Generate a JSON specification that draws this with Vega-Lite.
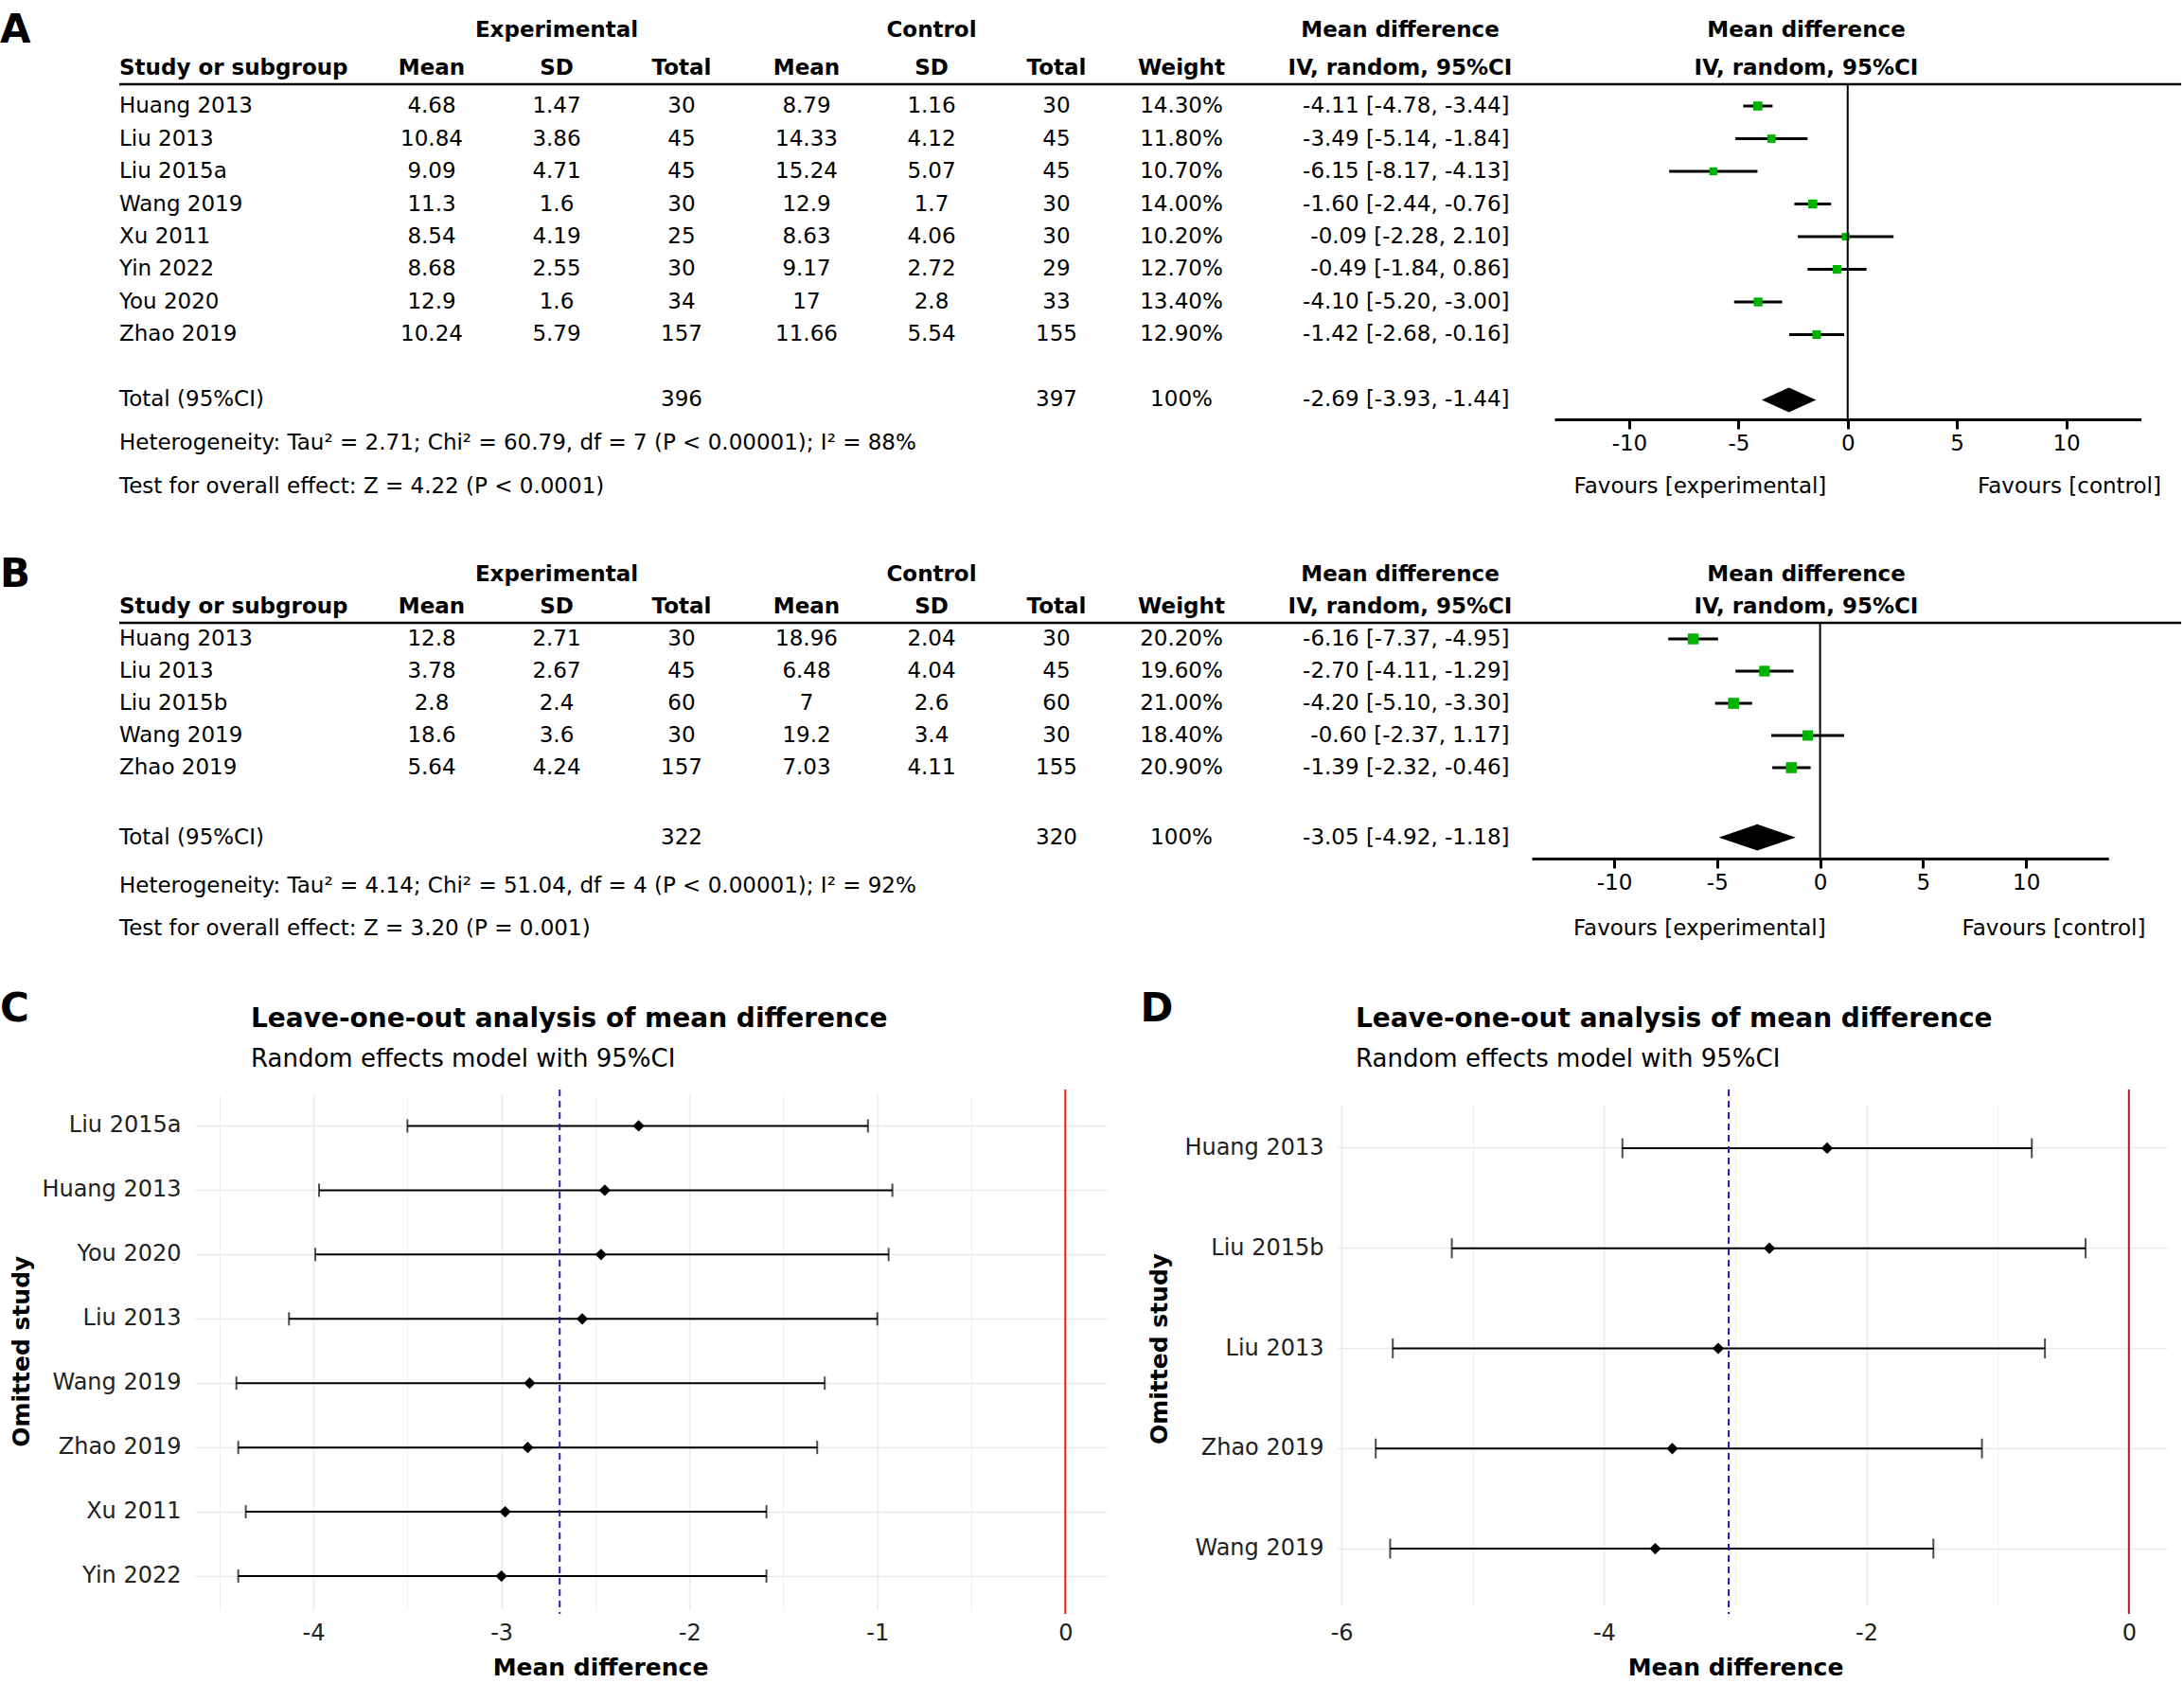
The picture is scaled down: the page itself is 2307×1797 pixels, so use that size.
{
  "$schema": "https://vega.github.io/schema/vega-lite/v6.json",
  "padding": 0,
  "background": "white",
  "config": {
    "font": "DejaVu Sans",
    "view": {"stroke": null},
    "text": {"fontSize": 23, "color": "black", "baseline": "middle"},
    "axis": {"labelFont": "DejaVu Sans", "titleFont": "DejaVu Sans"},
    "title": {"font": "DejaVu Sans", "subtitleFont": "DejaVu Sans"}
  },
  "datasets": {
    "hdr": [
      {"row": "hdr1", "col": "SD_e", "txt": "Experimental"},
      {"row": "hdr1", "col": "SD_c", "txt": "Control"},
      {"row": "hdr1", "col": "MD_h", "txt": "Mean difference"},
      {"row": "hdr1", "col": "FH", "txt": "Mean difference"},
      {"row": "hdr2", "col": "Mean_e", "txt": "Mean"},
      {"row": "hdr2", "col": "SD_e", "txt": "SD"},
      {"row": "hdr2", "col": "Total_e", "txt": "Total"},
      {"row": "hdr2", "col": "Mean_c", "txt": "Mean"},
      {"row": "hdr2", "col": "SD_c", "txt": "SD"},
      {"row": "hdr2", "col": "Total_c", "txt": "Total"},
      {"row": "hdr2", "col": "Weight", "txt": "Weight"},
      {"row": "hdr2", "col": "MD_h", "txt": "IV, random, 95%CI"},
      {"row": "hdr2", "col": "FH", "txt": "IV, random, 95%CI"}
    ],
    "A": [
      {"row": "Huang 2013", "Mean_e": 4.68, "SD_e": 1.47, "Total_e": 30, "Mean_c": 8.79, "SD_c": 1.16, "Total_c": 30, "Weight": "14.30%", "ci": "-4.11 [-4.78, -3.44]", "md": -4.11, "lo": -4.78, "hi": -3.44, "w": 14.3},
      {"row": "Liu 2013", "Mean_e": 10.84, "SD_e": 3.86, "Total_e": 45, "Mean_c": 14.33, "SD_c": 4.12, "Total_c": 45, "Weight": "11.80%", "ci": "-3.49 [-5.14, -1.84]", "md": -3.49, "lo": -5.14, "hi": -1.84, "w": 11.8},
      {"row": "Liu 2015a", "Mean_e": 9.09, "SD_e": 4.71, "Total_e": 45, "Mean_c": 15.24, "SD_c": 5.07, "Total_c": 45, "Weight": "10.70%", "ci": "-6.15 [-8.17, -4.13]", "md": -6.15, "lo": -8.17, "hi": -4.13, "w": 10.7},
      {"row": "Wang 2019", "Mean_e": 11.3, "SD_e": 1.6, "Total_e": 30, "Mean_c": 12.9, "SD_c": 1.7, "Total_c": 30, "Weight": "14.00%", "ci": "-1.60 [-2.44, -0.76]", "md": -1.6, "lo": -2.44, "hi": -0.76, "w": 14.0},
      {"row": "Xu 2011", "Mean_e": 8.54, "SD_e": 4.19, "Total_e": 25, "Mean_c": 8.63, "SD_c": 4.06, "Total_c": 30, "Weight": "10.20%", "ci": "-0.09 [-2.28, 2.10]", "md": -0.09, "lo": -2.28, "hi": 2.1, "w": 10.2},
      {"row": "Yin 2022", "Mean_e": 8.68, "SD_e": 2.55, "Total_e": 30, "Mean_c": 9.17, "SD_c": 2.72, "Total_c": 29, "Weight": "12.70%", "ci": "-0.49 [-1.84, 0.86]", "md": -0.49, "lo": -1.84, "hi": 0.86, "w": 12.7},
      {"row": "You 2020", "Mean_e": 12.9, "SD_e": 1.6, "Total_e": 34, "Mean_c": 17, "SD_c": 2.8, "Total_c": 33, "Weight": "13.40%", "ci": "-4.10 [-5.20, -3.00]", "md": -4.1, "lo": -5.2, "hi": -3.0, "w": 13.4},
      {"row": "Zhao 2019", "Mean_e": 10.24, "SD_e": 5.79, "Total_e": 157, "Mean_c": 11.66, "SD_c": 5.54, "Total_c": 155, "Weight": "12.90%", "ci": "-1.42 [-2.68, -0.16]", "md": -1.42, "lo": -2.68, "hi": -0.16, "w": 12.9},
      {"row": "Total (95%CI)", "Total_e": 396, "Total_c": 397, "Weight": "100%", "ci": "-2.69 [-3.93, -1.44]", "md": -2.69, "lo": -3.93, "hi": -1.44, "w": 100}
    ],
    "A_notes": [
      {"row": "het", "txt": "Heterogeneity: Tau² = 2.71; Chi² = 60.79, df = 7 (P < 0.00001); I² = 88%"},
      {"row": "test", "txt": "Test for overall effect: Z = 4.22 (P < 0.0001)"}
    ],
    "B": [
      {"row": "Huang 2013", "Mean_e": 12.8, "SD_e": 2.71, "Total_e": 30, "Mean_c": 18.96, "SD_c": 2.04, "Total_c": 30, "Weight": "20.20%", "ci": "-6.16 [-7.37, -4.95]", "md": -6.16, "lo": -7.37, "hi": -4.95, "w": 20.2},
      {"row": "Liu 2013", "Mean_e": 3.78, "SD_e": 2.67, "Total_e": 45, "Mean_c": 6.48, "SD_c": 4.04, "Total_c": 45, "Weight": "19.60%", "ci": "-2.70 [-4.11, -1.29]", "md": -2.7, "lo": -4.11, "hi": -1.29, "w": 19.6},
      {"row": "Liu 2015b", "Mean_e": 2.8, "SD_e": 2.4, "Total_e": 60, "Mean_c": 7, "SD_c": 2.6, "Total_c": 60, "Weight": "21.00%", "ci": "-4.20 [-5.10, -3.30]", "md": -4.2, "lo": -5.1, "hi": -3.3, "w": 21.0},
      {"row": "Wang 2019", "Mean_e": 18.6, "SD_e": 3.6, "Total_e": 30, "Mean_c": 19.2, "SD_c": 3.4, "Total_c": 30, "Weight": "18.40%", "ci": "-0.60 [-2.37, 1.17]", "md": -0.6, "lo": -2.37, "hi": 1.17, "w": 18.4},
      {"row": "Zhao 2019", "Mean_e": 5.64, "SD_e": 4.24, "Total_e": 157, "Mean_c": 7.03, "SD_c": 4.11, "Total_c": 155, "Weight": "20.90%", "ci": "-1.39 [-2.32, -0.46]", "md": -1.39, "lo": -2.32, "hi": -0.46, "w": 20.9},
      {"row": "Total (95%CI)", "Total_e": 322, "Total_c": 320, "Weight": "100%", "ci": "-3.05 [-4.92, -1.18]", "md": -3.05, "lo": -4.92, "hi": -1.18, "w": 100}
    ],
    "B_notes": [
      {"row": "het", "txt": "Heterogeneity: Tau² = 4.14; Chi² = 51.04, df = 4 (P < 0.00001); I² = 92%"},
      {"row": "test", "txt": "Test for overall effect: Z = 3.20 (P = 0.001)"}
    ],
    "C": [
      {"study": "Liu 2015a", "est": -2.27, "lo": -3.5, "hi": -1.05},
      {"study": "Huang 2013", "est": -2.45, "lo": -3.97, "hi": -0.92},
      {"study": "You 2020", "est": -2.47, "lo": -3.99, "hi": -0.94},
      {"study": "Liu 2013", "est": -2.57, "lo": -4.13, "hi": -1.0},
      {"study": "Wang 2019", "est": -2.85, "lo": -4.41, "hi": -1.28},
      {"study": "Zhao 2019", "est": -2.86, "lo": -4.4, "hi": -1.32},
      {"study": "Xu 2011", "est": -2.98, "lo": -4.36, "hi": -1.59},
      {"study": "Yin 2022", "est": -3.0, "lo": -4.4, "hi": -1.59}
    ],
    "D": [
      {"study": "Huang 2013", "est": -2.3, "lo": -3.86, "hi": -0.74},
      {"study": "Liu 2015b", "est": -2.74, "lo": -5.16, "hi": -0.33},
      {"study": "Liu 2013", "est": -3.13, "lo": -5.61, "hi": -0.64},
      {"study": "Zhao 2019", "est": -3.48, "lo": -5.74, "hi": -1.12},
      {"study": "Wang 2019", "est": -3.61, "lo": -5.63, "hi": -1.49}
    ]
  },
  "spacing": 0,
  "bounds": "flush",
  "vconcat": [
    {
      "width": 2307,
      "height": 584,
      "resolve": {"scale": {"x": "independent"}, "axis": {"x": "independent"}},
      "layer": [
        {
          "layer": [
            {
              "data": {"values": [{"row": "hdr1", "col": "lab", "txt": "A"}]},
              "mark": {"type": "text", "align": "left", "dx": 6, "fontSize": 42, "fontWeight": "bold"},
              "encoding": {
                "x": {"field": "col", "type": "nominal", "axis": null, "scale": {"type": "point", "padding": 0.0001, "range": [-6, 2304], "domain": ["lab","x-7","x-6","x-5","x-4","x-3","x-2","x-1","Study","x1","x2","x3","x4","x5","x6","x7","x8","x9","x10","x11","x12","x13","x14","x15","x16","x17","x18","x19","Mean_e","x21","x22","x23","x24","x25","x26","x27","SD_e","x29","x30","x31","x32","x33","x34","x35","Total_e","x37","x38","x39","x40","x41","x42","x43","Mean_c","x45","x46","x47","x48","x49","x50","x51","SD_c","x53","x54","x55","x56","x57","x58","x59","Total_c","x61","x62","x63","x64","Dlab","x66","x67","Weight","x69","x70","x71","x72","x73","x74","x75","x76","x77","x78","x79","x80","x81","MD_h","x83","x84","x85","x86","x87","x88","MD","x90","x91","x92","x93","x94","x95","x96","x97","x98","x99","x100","x101","x102","x103","x104","x105","x106","x107","FH","x109","x110","x111","x112","x113","x114","x115","x116","x117","x118","x119","x120","x121","x122","x123","x124","x125","x126","x127","x128","x129","x130","x131","end"]}},
                "y": {"field": "row", "type": "nominal", "axis": null, "scale": {"type": "point", "padding": 0.0001, "range": [31.5, 514.5], "domain": ["hdr1","y-13","y-12","y-11","y-10","y-9","y-8","hdr2","y-6","y-5","rule","y-3","y-2","y-1","Huang 2013","y1","y2","y3","y4","y5","Liu 2013","y7","y8","y9","y10","y11","Liu 2015a","y13","y14","y15","y16","y17","Wang 2019","y19","y20","y21","y22","y23","Xu 2011","y25","y26","y27","y28","y29","Yin 2022","y31","y32","y33","y34","y35","You 2020","y37","y38","y39","y40","y41","Zhao 2019","y43","y44","y45","y46","y47","y48","y49","y50","y51","y52","y53","Total (95%CI)","y55","y56","y57","axis","y59","y60","y61","het","y63","y64","y65","y66","y67","y68","y69","test"]}},
                "text": {"field": "txt"}
              }
            },
            {
              "data": {"name": "hdr"},
              "mark": {"type": "text", "align": "center", "fontWeight": "bold", "fontSize": 23},
              "encoding": {
                "x": {"field": "col", "type": "nominal", "axis": null},
                "y": {"field": "row", "type": "nominal", "axis": null},
                "text": {"field": "txt"}
              }
            },
            {
              "data": {"values": [{"txt": "Study or subgroup"}]},
              "mark": {"type": "text", "align": "left", "fontWeight": "bold", "fontSize": 23},
              "encoding": {
                "x": {"datum": "Study", "axis": null},
                "y": {"datum": "hdr2", "axis": null},
                "text": {"field": "txt"}
              }
            },
            {
              "data": {"name": "A"},
              "mark": {"type": "text", "align": "left"},
              "encoding": {
                "x": {"datum": "Study", "axis": null},
                "y": {"field": "row", "type": "nominal", "axis": null},
                "text": {"field": "row"}
              }
            },
            {
              "data": {"name": "A_notes"},
              "mark": {"type": "text", "align": "left"},
              "encoding": {
                "x": {"datum": "Study", "axis": null},
                "y": {"field": "row", "type": "nominal", "axis": null},
                "text": {"field": "txt"}
              }
            },
            {
              "data": {"name": "A"},
              "transform": [
                {"fold": ["Mean_e", "SD_e", "Total_e", "Mean_c", "SD_c", "Total_c", "Weight"], "as": ["col", "txt"]},
                {"filter": "datum.txt != null"}
              ],
              "mark": {"type": "text", "align": "center"},
              "encoding": {
                "x": {"field": "col", "type": "nominal", "axis": null},
                "y": {"field": "row", "type": "nominal", "axis": null},
                "text": {"field": "txt", "type": "nominal"}
              }
            },
            {
              "data": {"name": "A"},
              "mark": {"type": "text", "align": "right"},
              "encoding": {
                "x": {"datum": "MD", "axis": null},
                "y": {"field": "row", "type": "nominal", "axis": null},
                "text": {"field": "ci"}
              }
            },
            {
              "data": {"values": [{}]},
              "mark": {"type": "rule", "color": "black", "strokeWidth": 2.5},
              "encoding": {
                "x": {"datum": "Study", "axis": null},
                "x2": {"datum": "end"},
                "y": {"datum": "rule", "axis": null}
              }
            }
          ]
        },
        {
          "layer": [
            {
              "data": {"name": "A"},
              "transform": [{"filter": "datum.row !== 'Total (95%CI)'"}],
              "mark": {"type": "rule", "color": "black", "strokeWidth": 3},
              "encoding": {
                "x": {"field": "lo", "type": "quantitative", "scale": {"domain": [-13.42, 13.42], "range": [1642, 2261.5], "nice": false, "zero": false},
                  "axis": {"values": [-10, -5, 0, 5, 10], "labelExpr": "'' + datum.value", "title": null, "orient": "bottom", "offset": -141, "grid": false, "domain": true, "ticks": true, "domainColor": "black", "domainWidth": 3, "tickColor": "black", "tickWidth": 3, "tickSize": 10, "labelFontSize": 23, "labelColor": "black", "labelPadding": 4, "labelFlush": false}},
                "x2": {"field": "hi"},
                "y": {"field": "row", "type": "nominal", "axis": null}
              }
            },
            {
              "data": {"name": "A"},
              "transform": [{"filter": "datum.row !== 'Total (95%CI)'"}],
              "mark": {"type": "square", "color": "#00b300", "filled": true, "opacity": 1},
              "encoding": {
                "x": {"field": "md", "type": "quantitative"},
                "y": {"field": "row", "type": "nominal", "axis": null},
                "size": {"field": "w", "type": "quantitative", "scale": {"domain": [0, 25], "range": [0, 162]}, "legend": null}
              }
            },
            {
              "data": {"name": "A"},
              "transform": [{"filter": "datum.row === 'Total (95%CI)'"}],
              "mark": {"type": "point", "shape": "M-1,0L0,-0.45L1,0L0,0.45Z", "size": 3295, "filled": true, "color": "black", "opacity": 1, "strokeWidth": 0},
              "encoding": {
                "x": {"field": "md", "type": "quantitative"},
                "y": {"field": "row", "type": "nominal", "axis": null}
              }
            },
            {
              "data": {"values": [{}]},
              "mark": {"type": "rule", "color": "black", "strokeWidth": 2},
              "encoding": {
                "x": {"datum": 0},
                "y": {"datum": "rule", "axis": null},
                "y2": {"datum": "axis"}
              }
            },
            {
              "data": {"values": [{}]},
              "mark": {"type": "text", "align": "center"},
              "encoding": {
                "x": {"datum": -6.75},
                "y": {"datum": "test", "axis": null},
                "text": {"value": "Favours [experimental]"}
              }
            },
            {
              "data": {"values": [{}]},
              "mark": {"type": "text", "align": "center"},
              "encoding": {
                "x": {"datum": 10.15},
                "y": {"datum": "test", "axis": null},
                "text": {"value": "Favours [control]"}
              }
            }
          ]
        }
      ]
    },
    {
      "width": 2307,
      "height": 567,
      "resolve": {"scale": {"x": "independent"}, "axis": {"x": "independent"}},
      "layer": [
        {
          "layer": [
            {
              "data": {"values": [{"row": "hdr1", "col": "lab", "txt": "B"}, {"row": "cdlab", "col": "lab", "txt": "C"}, {"row": "cdlab", "col": "Dlab", "txt": "D"}]},
              "mark": {"type": "text", "align": "left", "dx": 6, "fontSize": 42, "fontWeight": "bold"},
              "encoding": {
                "x": {"field": "col", "type": "nominal", "axis": null, "scale": {"type": "point", "padding": 0.0001, "range": [-6, 2304], "domain": ["lab","x-7","x-6","x-5","x-4","x-3","x-2","x-1","Study","x1","x2","x3","x4","x5","x6","x7","x8","x9","x10","x11","x12","x13","x14","x15","x16","x17","x18","x19","Mean_e","x21","x22","x23","x24","x25","x26","x27","SD_e","x29","x30","x31","x32","x33","x34","x35","Total_e","x37","x38","x39","x40","x41","x42","x43","Mean_c","x45","x46","x47","x48","x49","x50","x51","SD_c","x53","x54","x55","x56","x57","x58","x59","Total_c","x61","x62","x63","x64","Dlab","x66","x67","Weight","x69","x70","x71","x72","x73","x74","x75","x76","x77","x78","x79","x80","x81","MD_h","x83","x84","x85","x86","x87","x88","MD","x90","x91","x92","x93","x94","x95","x96","x97","x98","x99","x100","x101","x102","x103","x104","x105","x106","x107","FH","x109","x110","x111","x112","x113","x114","x115","x116","x117","x118","x119","x120","x121","x122","x123","x124","x125","x126","x127","x128","x129","x130","x131","end"]}},
                "y": {"field": "row", "type": "nominal", "axis": null, "scale": {"type": "point", "padding": 0.0001, "range": [23, 482], "domain": ["hdr1","y-11","y-10","y-9","y-8","y-7","hdr2","y-5","y-4","rule","y-2","y-1","Huang 2013","y1","y2","y3","y4","y5","Liu 2013","y7","y8","y9","y10","y11","Liu 2015b","y13","y14","y15","y16","y17","Wang 2019","y19","y20","y21","y22","y23","Zhao 2019","y25","y26","y27","y28","y29","y30","y31","y32","y33","y34","y35","y36","Total (95%CI)","y38","y39","y40","axis","y42","y43","y44","y45","het","y47","y48","y49","y50","y51","y52","y53","test","y55","y56","y57","y58","y59","y60","y61","y62","y63","y64","y65","y66","y67","y68","cdlab"]}},
                "text": {"field": "txt"}
              }
            },
            {
              "data": {"name": "hdr"},
              "mark": {"type": "text", "align": "center", "fontWeight": "bold", "fontSize": 23},
              "encoding": {
                "x": {"field": "col", "type": "nominal", "axis": null},
                "y": {"field": "row", "type": "nominal", "axis": null},
                "text": {"field": "txt"}
              }
            },
            {
              "data": {"values": [{"txt": "Study or subgroup"}]},
              "mark": {"type": "text", "align": "left", "fontWeight": "bold", "fontSize": 23},
              "encoding": {
                "x": {"datum": "Study", "axis": null},
                "y": {"datum": "hdr2", "axis": null},
                "text": {"field": "txt"}
              }
            },
            {
              "data": {"name": "B"},
              "mark": {"type": "text", "align": "left"},
              "encoding": {
                "x": {"datum": "Study", "axis": null},
                "y": {"field": "row", "type": "nominal", "axis": null},
                "text": {"field": "row"}
              }
            },
            {
              "data": {"name": "B_notes"},
              "mark": {"type": "text", "align": "left"},
              "encoding": {
                "x": {"datum": "Study", "axis": null},
                "y": {"field": "row", "type": "nominal", "axis": null},
                "text": {"field": "txt"}
              }
            },
            {
              "data": {"name": "B"},
              "transform": [
                {"fold": ["Mean_e", "SD_e", "Total_e", "Mean_c", "SD_c", "Total_c", "Weight"], "as": ["col", "txt"]},
                {"filter": "datum.txt != null"}
              ],
              "mark": {"type": "text", "align": "center"},
              "encoding": {
                "x": {"field": "col", "type": "nominal", "axis": null},
                "y": {"field": "row", "type": "nominal", "axis": null},
                "text": {"field": "txt", "type": "nominal"}
              }
            },
            {
              "data": {"name": "B"},
              "mark": {"type": "text", "align": "right"},
              "encoding": {
                "x": {"datum": "MD", "axis": null},
                "y": {"field": "row", "type": "nominal", "axis": null},
                "text": {"field": "ci"}
              }
            },
            {
              "data": {"values": [{}]},
              "mark": {"type": "rule", "color": "black", "strokeWidth": 2.5},
              "encoding": {
                "x": {"datum": "Study", "axis": null},
                "x2": {"datum": "end"},
                "y": {"datum": "rule", "axis": null}
              }
            }
          ]
        },
        {
          "layer": [
            {
              "data": {"name": "B"},
              "transform": [{"filter": "datum.row !== 'Total (95%CI)'"}],
              "mark": {"type": "rule", "color": "black", "strokeWidth": 3},
              "encoding": {
                "x": {"field": "lo", "type": "quantitative", "scale": {"domain": [-14, 14], "range": [1618, 2227.2], "nice": false, "zero": false},
                  "axis": {"values": [-10, -5, 0, 5, 10], "labelExpr": "'' + datum.value", "title": null, "orient": "bottom", "offset": -244, "grid": false, "domain": true, "ticks": true, "domainColor": "black", "domainWidth": 3, "tickColor": "black", "tickWidth": 3, "tickSize": 10, "labelFontSize": 23, "labelColor": "black", "labelPadding": 4, "labelFlush": false}},
                "x2": {"field": "hi"},
                "y": {"field": "row", "type": "nominal", "axis": null}
              }
            },
            {
              "data": {"name": "B"},
              "transform": [{"filter": "datum.row !== 'Total (95%CI)'"}],
              "mark": {"type": "square", "color": "#00b300", "filled": true, "opacity": 1},
              "encoding": {
                "x": {"field": "md", "type": "quantitative"},
                "y": {"field": "row", "type": "nominal", "axis": null},
                "size": {"field": "w", "type": "quantitative", "scale": {"domain": [0, 25], "range": [0, 162]}, "legend": null}
              }
            },
            {
              "data": {"name": "B"},
              "transform": [{"filter": "datum.row === 'Total (95%CI)'"}],
              "mark": {"type": "point", "shape": "M-1,0L0,-0.34L1,0L0,0.34Z", "size": 6610, "filled": true, "color": "black", "opacity": 1, "strokeWidth": 0},
              "encoding": {
                "x": {"field": "md", "type": "quantitative"},
                "y": {"field": "row", "type": "nominal", "axis": null}
              }
            },
            {
              "data": {"values": [{}]},
              "mark": {"type": "rule", "color": "black", "strokeWidth": 2},
              "encoding": {
                "x": {"datum": 0},
                "y": {"datum": "rule", "axis": null},
                "y2": {"datum": "axis"}
              }
            },
            {
              "data": {"values": [{}]},
              "mark": {"type": "text", "align": "center"},
              "encoding": {
                "x": {"datum": -5.85},
                "y": {"datum": "test", "axis": null},
                "text": {"value": "Favours [experimental]"}
              }
            },
            {
              "data": {"values": [{}]},
              "mark": {"type": "text", "align": "center"},
              "encoding": {
                "x": {"datum": 11.35},
                "y": {"datum": "test", "axis": null},
                "text": {"value": "Favours [control]"}
              }
            }
          ]
        }
      ]
    },
    {
      "spacing": 0,
      "bounds": "flush",
      "hconcat": [
        {
          "width": 1200,
          "height": 554,
          "title": {"text": "Leave-one-out analysis of mean difference", "subtitle": "Random effects model with 95%CI", "anchor": "start", "frame": "group", "dx": 265, "fontSize": 28, "fontWeight": "bold", "color": "black", "subtitleFontSize": 26, "subtitleColor": "black", "subtitlePadding": 15, "offset": 18},
          "layer": [
            {
              "data": {"name": "C"},
              "mark": {"type": "rule", "color": "black", "strokeWidth": 2},
              "encoding": {
                "x": {"field": "lo", "type": "quantitative", "scale": {"domain": [-4.63, 0.22], "range": [206, 1169], "nice": false, "zero": false},
                  "axis": {"values": [-4.5, -4, -3.5, -3, -2.5, -2, -1.5, -1, -0.5, 0], "labelExpr": "datum.value % 1 === 0 ? '' + datum.value : ''", "grid": true, "gridColor": "#ebebeb", "gridWidth": {"condition": {"test": "datum.value % 1 === 0", "value": 1.6}, "value": 0.8}, "ticks": false, "domain": false, "labelFontSize": 24, "labelColor": "#222222", "labelPadding": 8, "labelFlush": false, "title": "Mean difference", "titleFontSize": 25, "titleFontWeight": "bold", "titleColor": "black", "titlePadding": 12, "titleX": 634}},
                "x2": {"field": "hi"},
                "y": {"field": "study", "type": "nominal", "scale": {"domain": ["Liu 2015a", "Huang 2013", "You 2020", "Liu 2013", "Wang 2019", "Zhao 2019", "Xu 2011", "Yin 2022"], "range": [4.5, 548], "padding": 0.0001},
                  "axis": {"grid": true, "gridColor": "#ebebeb", "gridWidth": 1.6, "ticks": false, "tickSize": 0, "domain": false, "labelFontSize": 24, "labelColor": "#222222", "labelPadding": 0, "offset": -191, "title": "Omitted study", "titleFontSize": 25, "titleFontWeight": "bold", "titleColor": "black", "titleX": -169, "titleBaseline": "middle"}}
              }
            },
            {
              "data": {"name": "C"},
              "mark": {"type": "tick", "orient": "vertical", "color": "black", "thickness": 2, "size": 14},
              "encoding": {
                "x": {"field": "lo", "type": "quantitative"},
                "y": {"field": "study", "type": "nominal"}
              }
            },
            {
              "data": {"name": "C"},
              "mark": {"type": "tick", "orient": "vertical", "color": "black", "thickness": 2, "size": 14},
              "encoding": {
                "x": {"field": "hi", "type": "quantitative"},
                "y": {"field": "study", "type": "nominal"}
              }
            },
            {
              "data": {"values": [{}]},
              "mark": {"type": "rule", "color": "#1f1fbf", "strokeWidth": 2, "strokeDash": [7, 5]},
              "encoding": {"x": {"datum": -2.69}}
            },
            {
              "data": {"values": [{}]},
              "mark": {"type": "rule", "color": "#e31a1c", "strokeWidth": 2},
              "encoding": {"x": {"datum": 0}}
            },
            {
              "data": {"name": "C"},
              "mark": {"type": "point", "shape": "diamond", "filled": true, "color": "black", "opacity": 1, "size": 150},
              "encoding": {
                "x": {"field": "est", "type": "quantitative"},
                "y": {"field": "study", "type": "nominal"}
              }
            }
          ]
        },
        {
          "width": 1107,
          "height": 554,
          "title": {"text": "Leave-one-out analysis of mean difference", "subtitle": "Random effects model with 95%CI", "anchor": "start", "frame": "group", "dx": 232, "fontSize": 28, "fontWeight": "bold", "color": "black", "subtitleFontSize": 26, "subtitleColor": "black", "subtitlePadding": 15, "offset": 18},
          "layer": [
            {
              "data": {"name": "D"},
              "mark": {"type": "rule", "color": "black", "strokeWidth": 2},
              "encoding": {
                "x": {"field": "lo", "type": "quantitative", "scale": {"domain": [-6.03, 0.29], "range": [213, 1089], "nice": false, "zero": false},
                  "axis": {"values": [-6, -5, -4, -3, -2, -1, 0], "labelExpr": "datum.value % 2 === 0 ? '' + datum.value : ''", "grid": true, "gridColor": "#ebebeb", "gridWidth": {"condition": {"test": "datum.value % 2 === 0", "value": 1.6}, "value": 0.8}, "ticks": false, "domain": false, "labelFontSize": 24, "labelColor": "#222222", "labelPadding": 8, "labelFlush": false, "title": "Mean difference", "titleFontSize": 25, "titleFontWeight": "bold", "titleColor": "black", "titlePadding": 12, "titleX": 633}},
                "x2": {"field": "hi"},
                "y": {"field": "study", "type": "nominal", "scale": {"domain": ["Huang 2013", "Liu 2015b", "Liu 2013", "Zhao 2019", "Wang 2019"], "range": [9.1, 537.9], "padding": 0.0001},
                  "axis": {"grid": true, "gridColor": "#ebebeb", "gridWidth": 1.6, "ticks": false, "tickSize": 0, "domain": false, "labelFontSize": 24, "labelColor": "#222222", "labelPadding": 0, "offset": -198, "title": "Omitted study", "titleFontSize": 25, "titleFontWeight": "bold", "titleColor": "black", "titleX": -174, "titleBaseline": "middle"}}
              }
            },
            {
              "data": {"name": "D"},
              "mark": {"type": "tick", "orient": "vertical", "color": "black", "thickness": 2, "size": 21},
              "encoding": {
                "x": {"field": "lo", "type": "quantitative"},
                "y": {"field": "study", "type": "nominal"}
              }
            },
            {
              "data": {"name": "D"},
              "mark": {"type": "tick", "orient": "vertical", "color": "black", "thickness": 2, "size": 21},
              "encoding": {
                "x": {"field": "hi", "type": "quantitative"},
                "y": {"field": "study", "type": "nominal"}
              }
            },
            {
              "data": {"values": [{}]},
              "mark": {"type": "rule", "color": "#1f1fbf", "strokeWidth": 2, "strokeDash": [7, 5]},
              "encoding": {"x": {"datum": -3.05}}
            },
            {
              "data": {"values": [{}]},
              "mark": {"type": "rule", "color": "#b2182b", "strokeWidth": 2},
              "encoding": {"x": {"datum": 0}}
            },
            {
              "data": {"name": "D"},
              "mark": {"type": "point", "shape": "diamond", "filled": true, "color": "black", "opacity": 1, "size": 150},
              "encoding": {
                "x": {"field": "est", "type": "quantitative"},
                "y": {"field": "study", "type": "nominal"}
              }
            }
          ]
        }
      ]
    }
  ]
}
